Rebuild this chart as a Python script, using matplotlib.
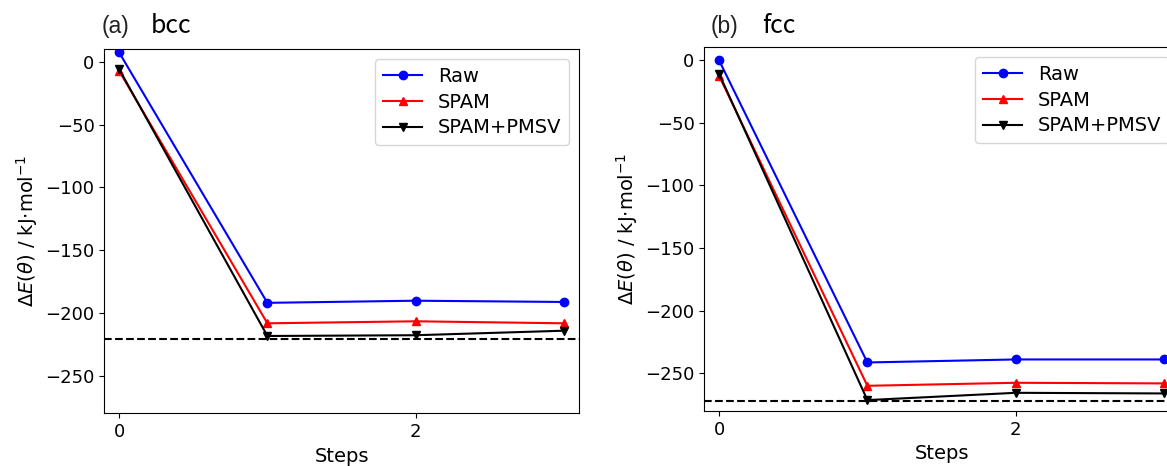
import matplotlib
matplotlib.use("Agg")
import matplotlib.pyplot as plt

# data
steps = [0, 1, 2, 3]

bcc_raw = [7.5, -192, -190.3, -191.3]
bcc_spam = [-7.2, -208.3, -206.7, -208.3]
bcc_pmsv = [-5.8, -218.4, -217.8, -214.2]
bcc_ref = -221

fcc_raw = [-0.5, -241.3, -238.9, -238.9]
fcc_spam = [-12.8, -259.9, -257.5, -258]
fcc_pmsv = [-11.2, -271.3, -265.5, -266]
fcc_ref = -272.4

labels = ["Raw", "SPAM", "SPAM+PMSV"]
panel_tags = ["(a)", "(b)"]
panel_names = ["bcc", "fcc"]

W, H = 1167, 466
fig = plt.figure(figsize=(W / 100, H / 100), dpi=100)


def px_axes(left, top, right, bottom):
    return fig.add_axes([left / W, 1 - bottom / H, (right - left) / W, (bottom - top) / H])


ax1 = px_axes(104.3, 49.3, 578.7, 413.3)
# right panel runs past the picture edge, like the original crop
ax2 = px_axes(704.3, 47.3, 1178.7, 411.0)

panels = [
    (ax1, bcc_raw, bcc_spam, bcc_pmsv, bcc_ref),
    (ax2, fcc_raw, fcc_spam, fcc_pmsv, fcc_ref),
]

for ax, raw, spam, pmsv, ref in panels:
    ax.plot(steps, raw, "-o", color="b", label=labels[0])
    ax.plot(steps, spam, "-^", color="r", label=labels[1])
    ax.plot(steps, pmsv, "-v", color="k", label=labels[2])
    ax.axhline(ref, color="k", linestyle="--", linewidth=1.5)
    ax.set_xlim(-0.1, 3.1)
    ax.set_ylim(-280, 10)
    ax.set_xticks([0, 2])
    ax.set_yticks([0, -50, -100, -150, -200, -250])
    ax.tick_params(labelsize=13)
    ax.set_xlabel("Steps", fontsize=14)
    ax.set_ylabel(r"$\Delta E(\theta)$ / kJ$\cdot$mol$^{-1}$", fontsize=14)
    ax.legend(loc="upper right", fontsize=14, labelspacing=0.35, borderpad=0.4)

# panel titles
tag_pos = [(102.0, 32.5), (711.0, 32.5)]
name_pos = [(151.0, 33.3), (762.5, 33.3)]
for i in range(2):
    fig.text(tag_pos[i][0] / W, 1 - tag_pos[i][1] / H, panel_tags[i],
             fontsize=16.5, va="baseline", ha="left", color="#222222",
             family="Liberation Sans")
    fig.text(name_pos[i][0] / W, 1 - name_pos[i][1] / H, panel_names[i],
             fontsize=18, va="baseline", ha="left", family="Noto Sans CJK SC")

fig.savefig("out.png", dpi=100)
